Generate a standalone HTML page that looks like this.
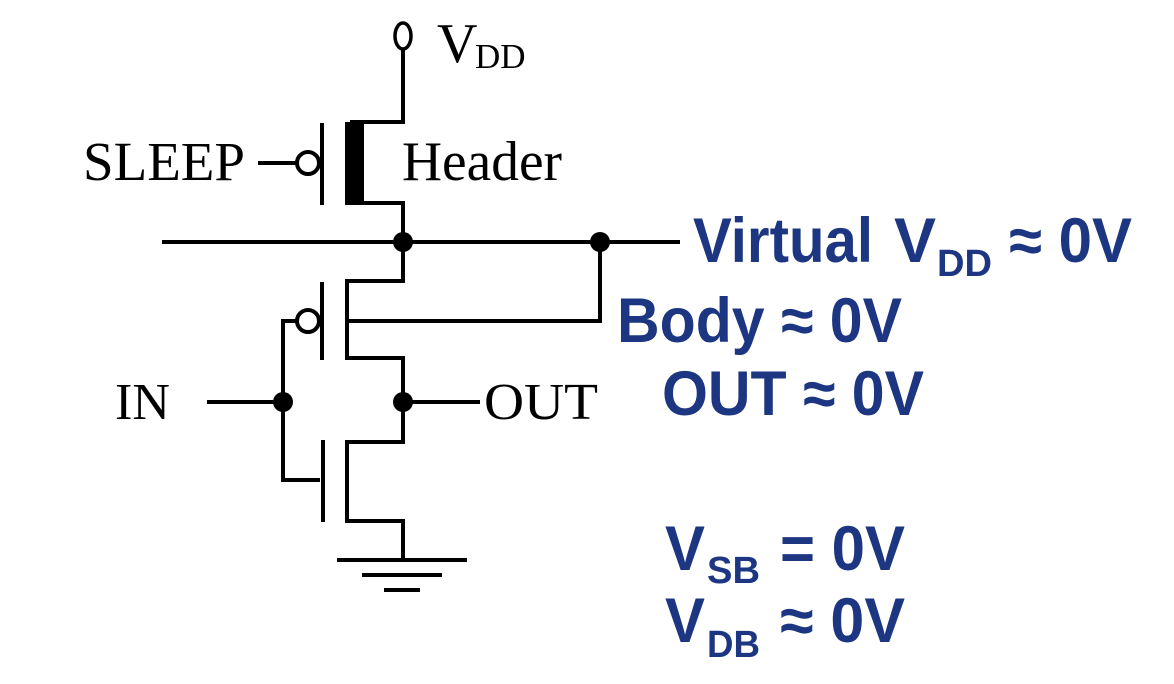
<!DOCTYPE html>
<html><head><meta charset="utf-8"><style>
html,body{margin:0;padding:0;background:#fff;}
svg{display:block;}
.s{font-family:"Liberation Serif",serif;fill:#000;}
.b{font-family:"Liberation Sans",sans-serif;font-weight:bold;fill:#1d3681;}
</style></head><body>
<svg width="1174" height="684" viewBox="0 0 1174 684" xmlns="http://www.w3.org/2000/svg">
<g stroke="#000" stroke-width="4" fill="none">
<ellipse cx="403" cy="36" rx="8" ry="13" stroke-width="3.5"/>
<polyline points="403,49 403,122 350,122"/>
<polyline points="350,203 403,203 403,242"/>
<line x1="322" y1="123" x2="322" y2="205"/>
<circle cx="308" cy="163" r="11"/>
<line x1="258" y1="163" x2="297" y2="163"/>
<line x1="162" y1="242" x2="680" y2="242"/>
<polyline points="403,242 403,281 347,281 347,358 403,358 403,402"/>
<line x1="322" y1="282" x2="322" y2="360"/>
<circle cx="308" cy="321" r="11"/>
<polyline points="347,321 600,321 600,242"/>
<polyline points="297,321 283,321 283,480 320,480"/>
<line x1="207" y1="402" x2="283" y2="402"/>
<line x1="403" y1="402" x2="480" y2="402"/>
<line x1="323" y1="440" x2="323" y2="522"/>
<polyline points="403,402 403,442 347,442 347,521 403,521 403,560"/>
<line x1="337" y1="560" x2="467" y2="560"/>
<line x1="362" y1="575" x2="442" y2="575"/>
<line x1="384" y1="590" x2="420" y2="590"/>
</g>
<rect x="345" y="122" width="19" height="83" fill="#000"/>
<g fill="#000">
<circle cx="403" cy="242" r="10"/><circle cx="600" cy="242" r="10"/>
<circle cx="403" cy="402" r="10"/><circle cx="283" cy="402" r="10"/>
</g>
<text class="s" x="437" y="62" font-size="56">V</text>
<text class="s" x="475" y="68" font-size="35">DD</text>
<text class="s" x="83" y="180" font-size="55" textLength="162" lengthAdjust="spacingAndGlyphs">SLEEP</text>
<text class="s" x="402" y="180" font-size="56" textLength="160" lengthAdjust="spacingAndGlyphs">Header</text>
<text class="s" x="115" y="419" font-size="52">IN</text>
<text class="s" x="484" y="419" font-size="52" textLength="114" lengthAdjust="spacingAndGlyphs">OUT</text>
<text class="b" x="693" y="262" font-size="63" textLength="180" lengthAdjust="spacingAndGlyphs">Virtual</text>
<text class="b" x="894" y="262" font-size="63" textLength="42" lengthAdjust="spacingAndGlyphs">V</text>
<text class="b" x="937" y="276" font-size="38" textLength="55" lengthAdjust="spacingAndGlyphs">DD</text>
<text class="b" x="1009" y="262" font-size="63" textLength="123" lengthAdjust="spacingAndGlyphs">≈ 0V</text>
<text class="b" x="617" y="342" font-size="63" textLength="285" lengthAdjust="spacingAndGlyphs">Body ≈ 0V</text>
<text class="b" x="662" y="415" font-size="63" textLength="262" lengthAdjust="spacingAndGlyphs">OUT ≈ 0V</text>
<text class="b" x="665" y="570" font-size="63" textLength="40" lengthAdjust="spacingAndGlyphs">V</text>
<text class="b" x="707" y="583" font-size="38" textLength="53" lengthAdjust="spacingAndGlyphs">SB</text>
<text class="b" x="780" y="570" font-size="63" textLength="125" lengthAdjust="spacingAndGlyphs">= 0V</text>
<text class="b" x="665" y="642" font-size="63" textLength="40" lengthAdjust="spacingAndGlyphs">V</text>
<text class="b" x="707" y="657" font-size="38" textLength="53" lengthAdjust="spacingAndGlyphs">DB</text>
<text class="b" x="780" y="642" font-size="63" textLength="125" lengthAdjust="spacingAndGlyphs">≈ 0V</text>
</svg>
</body></html>
